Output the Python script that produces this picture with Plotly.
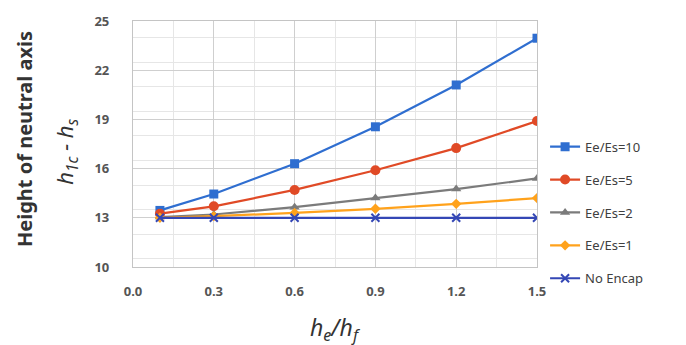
import plotly.graph_objects as go

x_vals = [0.1, 0.3, 0.6, 0.9, 1.2, 1.5]
series_names = ["Ee/Es=10", "Ee/Es=5", "Ee/Es=2", "Ee/Es=1", "No Encap"]
ee10 = [13.45, 14.45, 16.3, 18.55, 21.1, 23.95]
ee5 = [13.25, 13.7, 14.7, 15.9, 17.25, 18.9]
ee2 = [13.05, 13.2, 13.65, 14.2, 14.75, 15.4]
ee1 = [13.0, 13.1, 13.3, 13.55, 13.85, 14.2]
no_encap = [13.0, 13.0, 13.0, 13.0, 13.0, 13.0]
x_ticks = [0.0, 0.3, 0.6, 0.9, 1.2, 1.5]
y_ticks = [10, 13, 16, 19, 22, 25]

colors = ["#2F6ED0", "#E04A26", "#7B7B7B", "#FFA21C", "#3447B5"]
symbols = ["square", "circle", "triangle-up", "diamond", "x-thin-open"]
sizes = [9, 10, 9, 8, 8]
data = [ee10, ee5, ee2, ee1, no_encap]

fig = go.Figure()
for i, (name, ys) in enumerate(zip(series_names, data)):
    fig.add_trace(go.Scatter(
        x=x_vals, y=ys, name=name, mode="lines+markers",
        legendgroup=name,
        line=dict(color=colors[i], width=2.2),
        marker=dict(symbol=symbols[i], size=sizes[i], color=colors[i],
                    line=dict(color=colors[i], width=2 if i == 4 else 0)),
    ))

tickfont = dict(size=13, color="#555555", family="Noto Sans", weight="bold")

fig.update_layout(
    width=686, height=345,
    margin=dict(l=133, r=149, t=13, b=78),
    paper_bgcolor="white", plot_bgcolor="white",
    font=dict(family="Noto Sans", color="#404040"),
    showlegend=True,
    legend=dict(x=1.02, y=0.55, xanchor="left", yanchor="top",
                font=dict(size=13, color="#404040"),
                traceorder="grouped", tracegroupgap=13,
                bgcolor="rgba(0,0,0,0)"),
    xaxis=dict(range=[0, 1.5], tickvals=x_ticks, ticktext=[f"{v:.1f}" for v in x_ticks],
               showgrid=True, gridcolor="#CFCFCF", gridwidth=1.3,
               minor=dict(dtick=0.15, showgrid=True, gridcolor="#E6E6E6", gridwidth=1),
               showline=True, linecolor="#C4C4C4", linewidth=1.3, mirror=True,
               zeroline=False, ticks="",
               tickfont=tickfont,
               ticklabelstandoff=12),
    yaxis=dict(range=[10, 25], tickvals=y_ticks,
               showgrid=True, gridcolor="#CFCFCF", gridwidth=1.3,
               minor=dict(dtick=1.5, showgrid=True, gridcolor="#E6E6E6", gridwidth=1),
               showline=True, linecolor="#C4C4C4", linewidth=1.3, mirror=True,
               zeroline=False, ticks="",
               tickfont=tickfont,
               ticklabelstandoff=20),
)

fig.add_annotation(
    text="<b>Height of neutral axis</b>", xref="paper", yref="paper",
    x=-0.27, y=0.52, textangle=-90, showarrow=False,
    font=dict(size=20, color="#333333", family="Noto Sans"),
    xanchor="center", yanchor="middle")
fig.add_annotation(
    text="<i>h</i><sub><i>1c</i></sub><i> - h</i><sub><i>s</i></sub>", xref="paper", yref="paper",
    x=-0.165, y=0.47, textangle=-90, showarrow=False,
    font=dict(size=22, color="#333333", family="Noto Sans"),
    xanchor="center", yanchor="middle")
fig.add_annotation(
    text="<i>h</i><sub><i>e</i></sub><i>/h</i><sub><i>f</i></sub>", xref="paper", yref="paper",
    x=0.5, y=-0.25, showarrow=False,
    font=dict(size=23, color="#333333", family="Noto Sans"),
    xanchor="center", yanchor="middle")

fig.write_html("out.html")
